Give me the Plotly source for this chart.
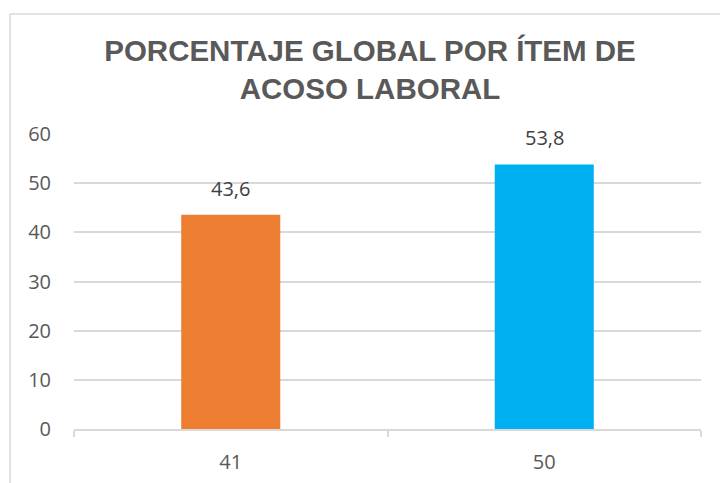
import plotly.graph_objects as go

categories = ["41", "50"]
values = [43.6, 53.8]
bar_colors = ["#ED7D31", "#00B0F0"]
y_ticks = [0, 10, 20, 30, 40, 50, 60]
title_text = "PORCENTAJE GLOBAL POR ÍTEM DE<br>ACOSO LABORAL"

W, H = 720, 483
L, R, T, B = 74, 19, 134, 54
pw, ph = W - L - R, H - T - B

def px_x(px):
    return (px - L) / pw

def px_y(py):
    return (H - B - py) / ph

fig = go.Figure()
fig.add_trace(go.Bar(
    x=categories, y=values,
    marker=dict(color=bar_colors, line=dict(width=0)),
    width=0.316,
    hoverinfo="x+y",
))

for i, v in enumerate(values):
    fig.add_annotation(
        x=i, y=v, text=f"{v:.1f}".replace(".", ","),
        showarrow=False, yanchor="bottom", yshift=11,
        font=dict(family="Open Sans", size=20, color="#404040"),
    )

grey = "#D9D9D9"
fig.update_layout(
    width=W, height=H,
    margin=dict(l=L, r=R, t=T, b=B, autoexpand=False),
    paper_bgcolor="white", plot_bgcolor="white",
    separators=",.",
    showlegend=False,
    title=dict(
        text="<b>" + title_text + "</b>",
        font=dict(family="Liberation Sans", size=29.5, color="#595959"),
        x=370 / W, xref="container", xanchor="center",
        y=1 - 61 / H, yref="container", yanchor="top",
    ),
    xaxis=dict(
        type="category",
        showgrid=False,
        showline=True, linecolor=grey, linewidth=1.5,
        ticks="outside", tickson="boundaries", ticklen=6, tickcolor=grey, tickwidth=1.5,
        ticklabelstandoff=14,
        tickfont=dict(family="Open Sans", size=20, color="#595959"),
        range=[-0.5, 1.5],
    ),
    yaxis=dict(
        range=[0, 60],
        tickvals=y_ticks,
        showgrid=True, gridcolor=grey, gridwidth=1.5,
        zeroline=False, showline=False,
        ticks="", ticklabelstandoff=22,
        tickfont=dict(family="Open Sans", size=20, color="#595959"),
    ),
    shapes=[
        dict(type="line", xref="paper", yref="paper",
             x0=px_x(10), x1=px_x(10), y0=px_y(H + 20), y1=px_y(14),
             line=dict(color=grey, width=1.5)),
        dict(type="line", xref="paper", yref="paper",
             x0=px_x(10), x1=px_x(W + 20), y0=px_y(14), y1=px_y(14),
             line=dict(color=grey, width=1.5)),
    ],
)

fig.write_html(
    "out.html",
    config={"displayModeBar": False},
    post_script="document.body.style.margin='0';document.body.style.overflow='hidden';",
)
